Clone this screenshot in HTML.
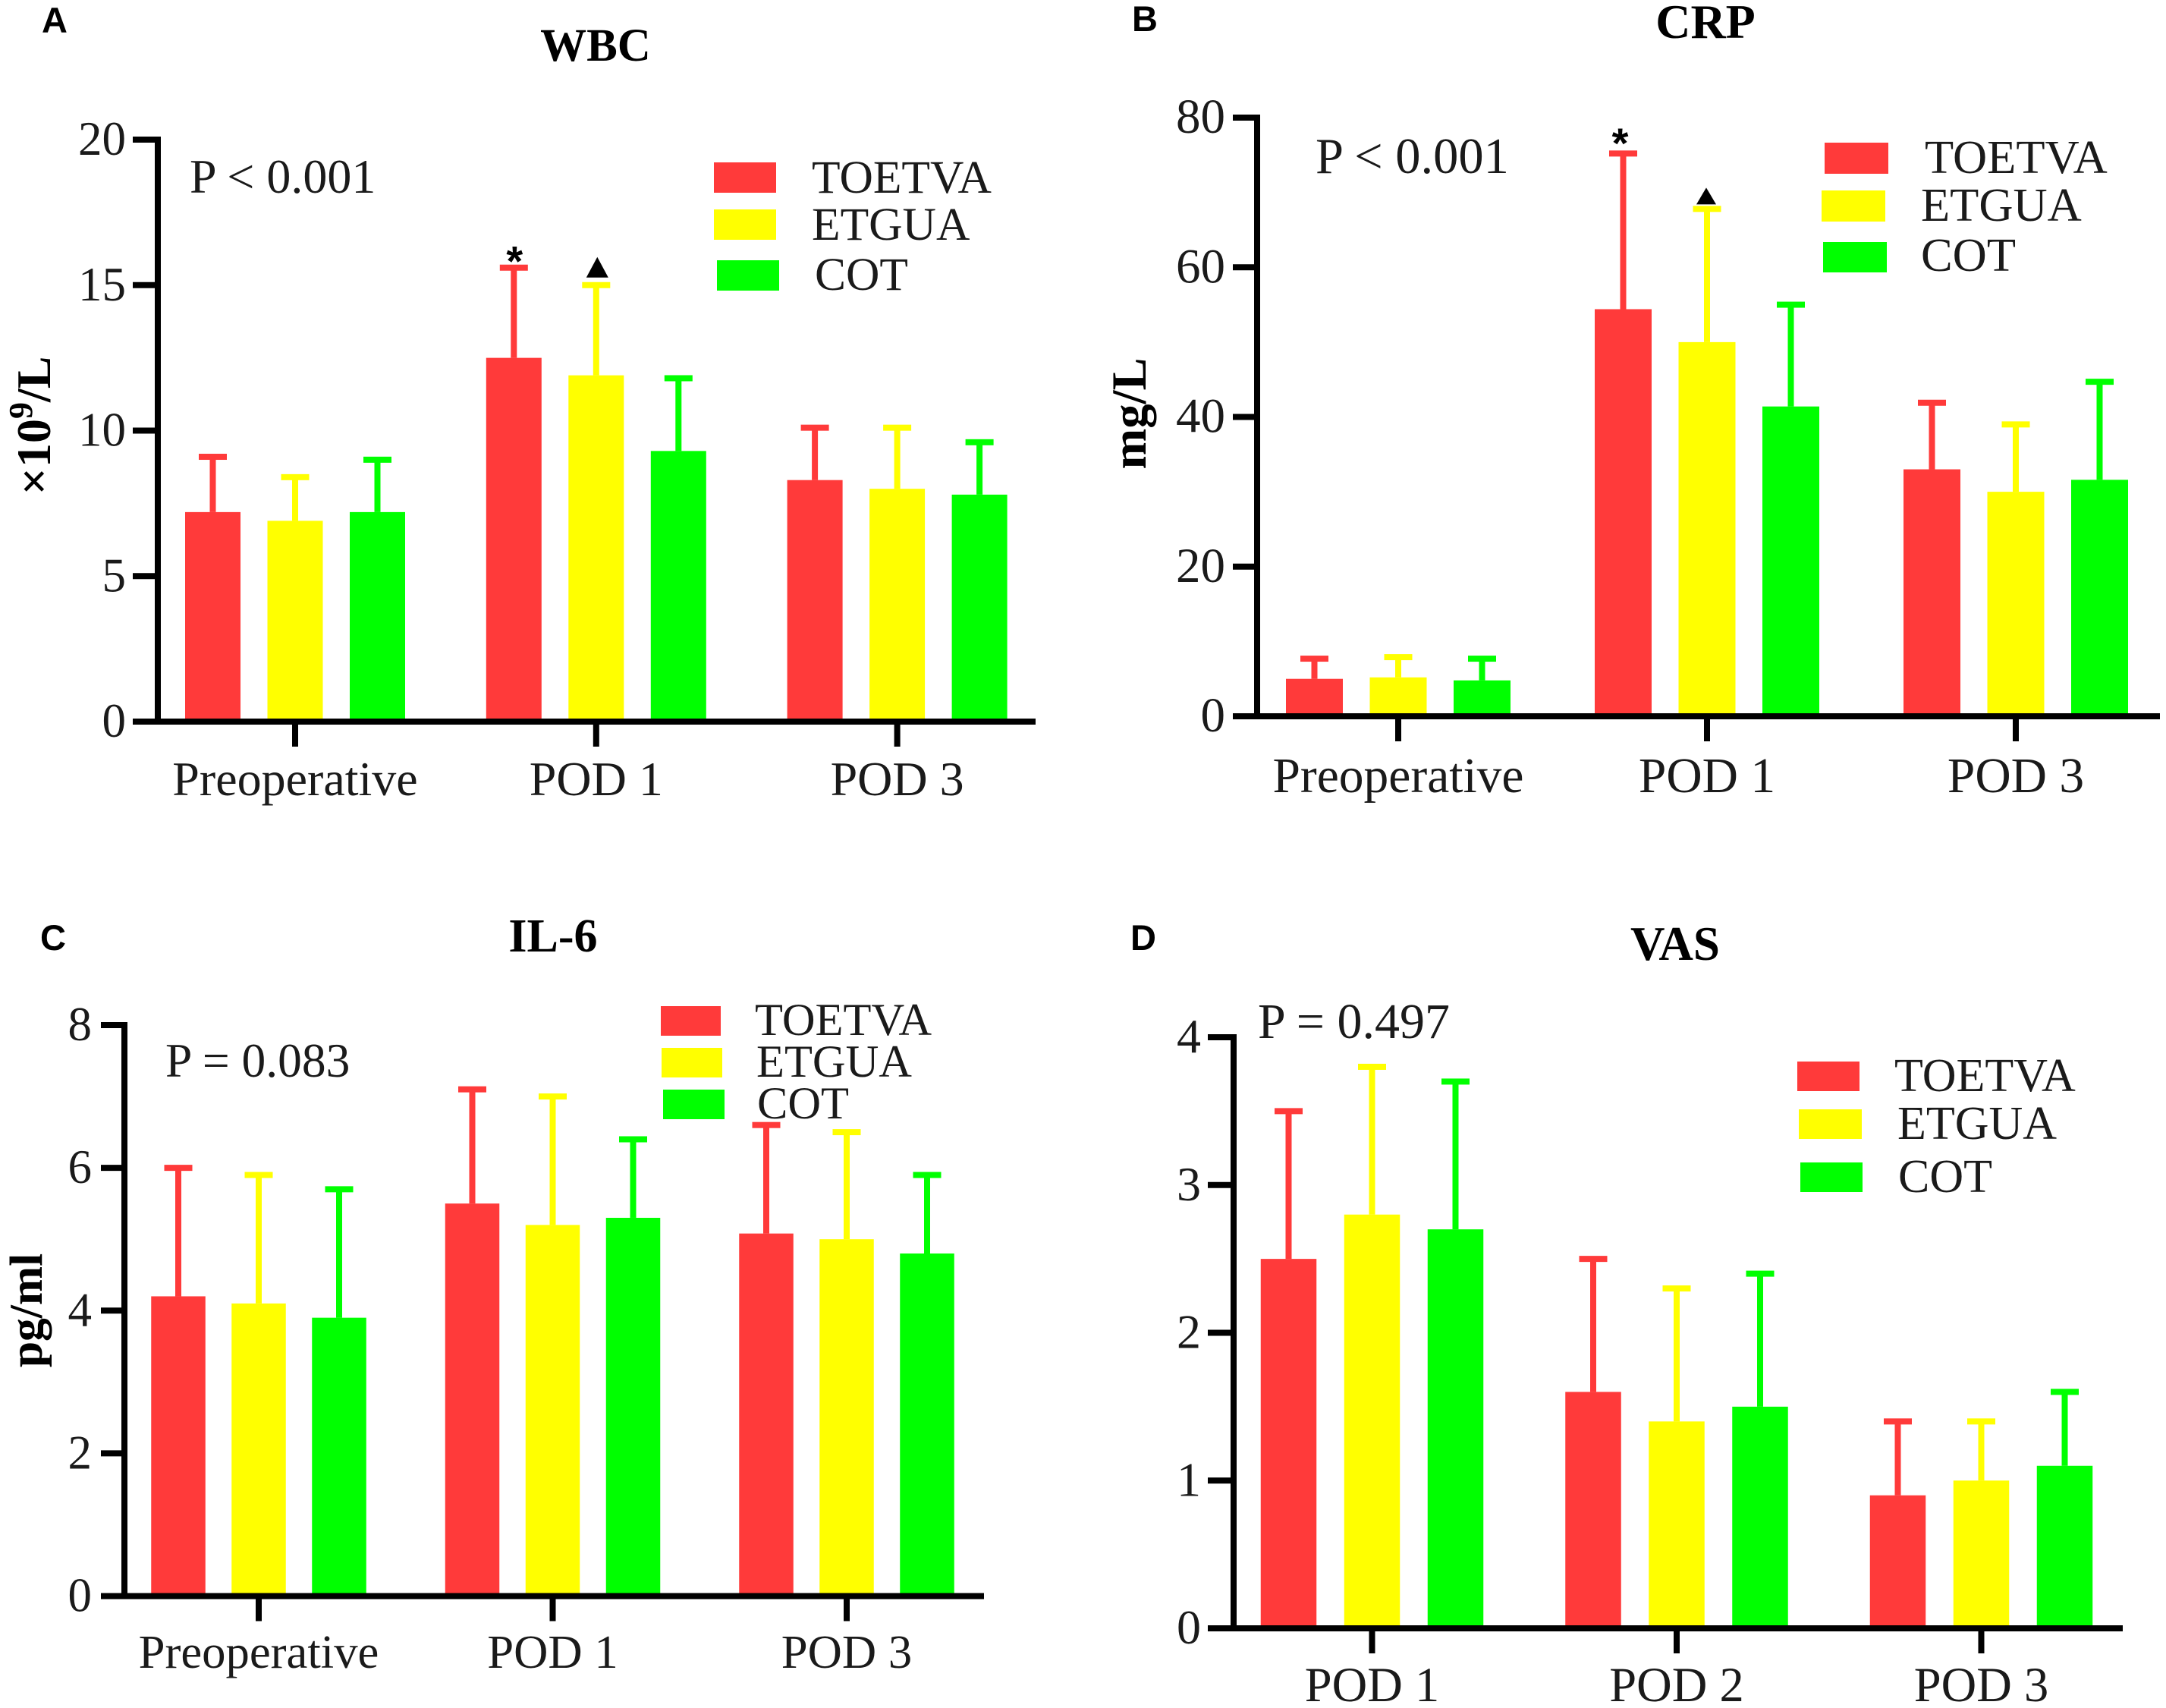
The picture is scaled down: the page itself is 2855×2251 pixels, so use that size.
<!DOCTYPE html>
<html lang="en">
<head>
<meta charset="utf-8">
<title>WBC, CRP, IL-6 and VAS by group</title>
<style>
html,body{margin:0;padding:0;background:#fff;}
svg{display:block;}
text{font-family:"Liberation Serif",serif;fill:#1a1a1a;}
.cat{text-anchor:middle;}
.title{font-weight:bold;text-anchor:middle;fill:#000;}
.ytitle{font-weight:bold;text-anchor:middle;fill:#000;}
.letter{font-family:"Liberation Sans",sans-serif;font-size:47px;font-weight:bold;fill:#000;}
</style>
</head>
<body>
<svg id="figure" xmlns="http://www.w3.org/2000/svg" width="2855" height="2251" viewBox="0 0 2855 2251">
  <rect width="2855" height="2251" fill="#fff"/>

  <g id="panel-a">
    <text class="letter" x="55" y="43">A</text>
    <text class="title" x="785" y="80" font-size="61">WBC</text>
    <text class="ytitle" transform="translate(66,561) rotate(-90)" font-size="64">×10<tspan dy="-24" font-size="44">9</tspan><tspan dy="24">/L</tspan></text>
    <text class="pv" x="250" y="254" font-size="64">P &lt; 0.001</text>
    <g font-size="61.5">
      <rect x="941" y="214" width="82" height="40" fill="#ff3a3a"/>
      <text class="leg" x="1070" y="254">TOETVA</text>
      <rect x="941" y="276" width="82" height="40" fill="#ffff00"/>
      <text class="leg" x="1070" y="316">ETGUA</text>
      <rect x="945" y="343" width="82" height="40" fill="#00ff00"/>
      <text class="leg" x="1074" y="382">COT</text>
    </g>
  </g>

  <g id="panel-b">
    <text class="letter" x="1492" y="41">B</text>
    <text class="title" x="2248" y="50" font-size="64">CRP</text>
    <text class="ytitle" transform="translate(1510,545) rotate(-90)" font-size="64.5">mg/L</text>
    <text class="pv" x="1734" y="228" font-size="66.5">P &lt; 0.001</text>
    <g font-size="62.5">
      <rect x="2405" y="188" width="84" height="41" fill="#ff3a3a"/>
      <text class="leg" x="2537" y="228">TOETVA</text>
      <rect x="2401" y="251" width="84" height="41" fill="#ffff00"/>
      <text class="leg" x="2532" y="291">ETGUA</text>
      <rect x="2403" y="319" width="84" height="40" fill="#00ff00"/>
      <text class="leg" x="2532" y="357">COT</text>
    </g>
  </g>

  <g id="panel-c">
    <text class="letter" x="53" y="1252">C</text>
    <text class="title" x="729" y="1254" font-size="62">IL-6</text>
    <text class="ytitle" transform="translate(55,1727) rotate(-90)" font-size="61.5">pg/ml</text>
    <text class="pv" x="218" y="1419" font-size="63.5">P = 0.083</text>
    <g font-size="60.5">
      <rect x="871" y="1326" width="79" height="39" fill="#ff3a3a"/>
      <text class="leg" x="995" y="1364">TOETVA</text>
      <rect x="872" y="1381" width="80" height="39" fill="#ffff00"/>
      <text class="leg" x="997" y="1419">ETGUA</text>
      <rect x="874" y="1436" width="81" height="39" fill="#00ff00"/>
      <text class="leg" x="998" y="1474">COT</text>
    </g>
  </g>

  <g id="panel-d">
    <text class="letter" x="1490" y="1252">D</text>
    <text class="title" x="2208" y="1265" font-size="63">VAS</text>
    <text class="pv" x="1658" y="1368" font-size="66">P = 0.497</text>
    <g font-size="62">
      <rect x="2369" y="1399" width="82" height="39" fill="#ff3a3a"/>
      <text class="leg" x="2497" y="1438">TOETVA</text>
      <rect x="2371" y="1462" width="83" height="39" fill="#ffff00"/>
      <text class="leg" x="2501" y="1501">ETGUA</text>
      <rect x="2373" y="1532" width="82" height="39" fill="#00ff00"/>
      <text class="leg" x="2502" y="1571">COT</text>
    </g>
  </g>
</svg>

<script>
// WBC
const wbcCategories = ["Preoperative", "POD 1", "POD 3"];
const wbcTicks = [0, 5, 10, 15, 20];
const wbcToetva = [7.2, 12.5, 8.3];
const wbcEtgua = [6.9, 11.9, 8.0];
const wbcCot = [7.2, 9.3, 7.8];
const wbcToetvaUpper = [9.1, 15.6, 10.1];
const wbcEtguaUpper = [8.4, 15.0, 10.1];
const wbcCotUpper = [9.0, 11.8, 9.6];

// CRP
const crpCategories = ["Preoperative", "POD 1", "POD 3"];
const crpTicks = [0, 20, 40, 60, 80];
const crpToetva = [5.0, 54.4, 33.0];
const crpEtgua = [5.2, 50.0, 30.0];
const crpCot = [4.8, 41.4, 31.6];
const crpToetvaUpper = [7.7, 75.2, 41.9];
const crpEtguaUpper = [7.9, 67.8, 39.0];
const crpCotUpper = [7.7, 55.0, 44.7];

// IL-6
const il6Categories = ["Preoperative", "POD 1", "POD 3"];
const il6Ticks = [0, 2, 4, 6, 8];
const il6Toetva = [4.2, 5.5, 5.08];
const il6Etgua = [4.1, 5.2, 5.0];
const il6Cot = [3.9, 5.3, 4.8];
const il6ToetvaUpper = [6.0, 7.1, 6.6];
const il6EtguaUpper = [5.9, 7.0, 6.5];
const il6CotUpper = [5.7, 6.4, 5.9];

// VAS
const vasCategories = ["POD 1", "POD 2", "POD 3"];
const vasTicks = [0, 1, 2, 3, 4];
const vasToetva = [2.5, 1.6, 0.9];
const vasEtgua = [2.8, 1.4, 1.0];
const vasCot = [2.7, 1.5, 1.1];
const vasToetvaUpper = [3.5, 2.5, 1.4];
const vasEtguaUpper = [3.8, 2.3, 1.4];
const vasCotUpper = [3.7, 2.4, 1.6];

const SVGNS = "http://www.w3.org/2000/svg";
const COLORS = ["#ff3a3a", "#ffff00", "#00ff00"];
const SERIES_NAMES = ["toetva", "etgua", "cot"];

function shape(parent, tag, attrs) {
  const el = document.createElementNS(SVGNS, tag);
  for (const k in attrs) el.setAttribute(k, attrs[k]);
  parent.appendChild(el);
  return el;
}

function drawPanel(id, geo, categories, ticks, means, uppers, marks) {
  const root = document.getElementById(id);
  const yMax = ticks[ticks.length - 1];
  const yScale = v => geo.y0 - (v / yMax) * (geo.y0 - geo.yTop);
  const groupX = i => geo.first + i * geo.step;
  const barX = (i, j) => groupX(i) + (j - 1) * geo.gap;

  const plot = shape(root, "g", {});
  
  

  means.forEach((series, j) => {
    series.forEach((v, i) => {
      const cx = barX(i, j);
      const top = yScale(v);
      const upper = yScale(uppers[j][i]);
      const bar = shape(plot, "rect", {x: cx - geo.barW / 2, y: top, width: geo.barW, height: geo.y0 - top, fill: COLORS[j]});
      
      
      const stem = shape(plot, "rect", {x: cx - 4, y: upper, width: 8, height: top - upper, fill: COLORS[j]});
      
      
      const cap = shape(plot, "rect", {x: cx - 18.5, y: upper - 4, width: 37, height: 8, fill: COLORS[j]});
      
      
    });
  });

  const yAxis = shape(root, "g", {});
  
  
  shape(yAxis, "rect", {x: geo.xAxis - 4, y: yScale(yMax) - 4, width: 8, height: geo.y0 - yScale(yMax) + 8, fill: "#000"});
  ticks.forEach(t => {
    const y = yScale(t);
    const mark = shape(yAxis, "rect", {x: geo.tickLeft, y: y - 4, width: geo.xAxis - geo.tickLeft, height: 8, fill: "#000"});
    
    
    const label = shape(yAxis, "text", {class: "tick", x: geo.labelRight, y: y + 20, "text-anchor": "end", "font-size": geo.tickSize});
    label.textContent = t;
    
    
  });

  const xAxis = shape(root, "g", {});
  
  
  shape(xAxis, "rect", {x: geo.tickLeft, y: geo.y0 - 4, width: geo.xEnd - geo.tickLeft, height: 8, fill: "#000"});
  categories.forEach((c, i) => {
    const x = groupX(i);
    const mark = shape(xAxis, "rect", {x: x - 4, y: geo.y0, width: 8, height: 33, fill: "#000"});
    
    
    const label = shape(xAxis, "text", {class: "cat", x: x, y: geo.catY, "font-size": geo.catSize});
    label.textContent = c;
    
    
  });

  if (marks) {
    const starTop = yScale(uppers[0][marks.group]);
    const star = shape(root, "text", {x: barX(marks.group, 0) + marks.starDx, y: starTop + marks.starDy, "text-anchor": "middle", "font-size": 56, "font-weight": "bold", style: 'font-family:"Liberation Sans",sans-serif;fill:#000;'});
    star.textContent = "*";
    
    
    const triTop = yScale(uppers[1][marks.group]);
    const tx = barX(marks.group, 1) + marks.triDx;
    const triBase = triTop - marks.triGap;
    const tri = shape(root, "polygon", {points: [[tx - marks.triHalf, triBase], [tx + marks.triHalf, triBase], [tx, triBase - marks.triH]].map(p => p.join(",")).join(" "), fill: "#000"});
    
    
  }
}

drawPanel("panel-a",
  {y0: 951, yTop: 184, xAxis: 208, tickLeft: 175, xEnd: 1365, labelRight: 166, first: 389, step: 396.8, gap: 108.5, barW: 73, catY: 1048, tickSize: 63, catSize: 64},
  wbcCategories, wbcTicks, [wbcToetva, wbcEtgua, wbcCot], [wbcToetvaUpper, wbcEtguaUpper, wbcCotUpper],
  {group: 1, starDx: 1, starDy: 11, triDx: 1.5, triGap: 10, triH: 27, triHalf: 14.5});

drawPanel("panel-b",
  {y0: 944, yTop: 155, xAxis: 1657, tickLeft: 1625, xEnd: 2847, labelRight: 1615, first: 1843, step: 407, gap: 110.5, barW: 75, catY: 1044, tickSize: 65, catSize: 65.5},
  crpCategories, crpTicks, [crpToetva, crpEtgua, crpCot], [crpToetvaUpper, crpEtguaUpper, crpCotUpper],
  {group: 1, starDx: -4, starDy: 5.5, triDx: -1, triGap: 6, triH: 22, triHalf: 13});

drawPanel("panel-c",
  {y0: 2103.5, yTop: 1351, xAxis: 164, tickLeft: 133, xEnd: 1297, labelRight: 121, first: 341, step: 387.5, gap: 106, barW: 71.5, catY: 2198, tickSize: 63, catSize: 62.7},
  il6Categories, il6Ticks, [il6Toetva, il6Etgua, il6Cot], [il6ToetvaUpper, il6EtguaUpper, il6CotUpper], null);

drawPanel("panel-d",
  {y0: 2146, yTop: 1367, xAxis: 1626, tickLeft: 1592, xEnd: 2798, labelRight: 1583, first: 1808.5, step: 401.5, gap: 110, barW: 73.5, catY: 2242, tickSize: 64, catSize: 64.5},
  vasCategories, vasTicks, [vasToetva, vasEtgua, vasCot], [vasToetvaUpper, vasEtguaUpper, vasCotUpper], null);
</script>
</body>
</html>
